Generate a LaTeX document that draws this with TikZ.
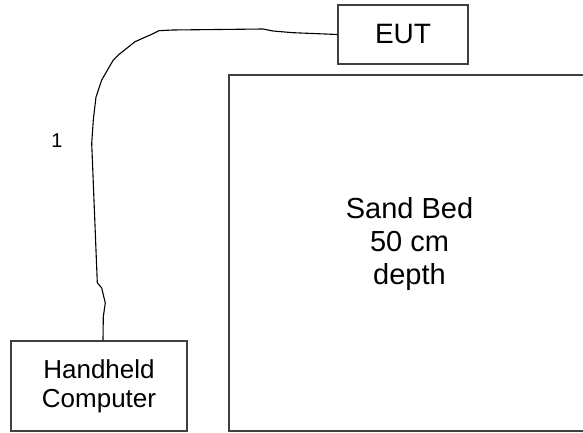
\documentclass[tikz,border=0pt]{standalone}
\usepackage{fontspec}
\setmainfont{Liberation Sans}
\usepackage{xcolor}
\usetikzlibrary{positioning}

\begin{document}
\begin{tikzpicture}[%
      x=1pt, y=-1pt,
      box/.style={draw=black!75, line width=1.4pt, align=center, inner sep=0pt},
      cable/.style={black, line width=1.1pt, line join=round}]
      \useasboundingbox (0,0) rectangle (583,433);
      \clip (0,0) rectangle (583,433);
      \node[box, minimum width=130pt, minimum height=59pt,
            font=\fontsize{28}{32}\selectfont] (eut) at (403,34.5) {EUT};
      \node[box, minimum width=361pt, minimum height=356pt] (sandbed) at (409.5,253) {};
      \node[align=center, font=\fontsize{29}{33}\selectfont]
            (sandtext) at ([yshift=9pt]sandbed.center) {Sand Bed\\50 cm\\depth};
      \node[box, minimum width=176pt, minimum height=90pt,
            font=\fontsize{26}{29}\selectfont] (handheld) at (99,386) {Handheld\\Computer};
      \node[font=\fontsize{20}{22}\selectfont] (cablenum) at (57,141) {1};
      % cable from the computer up and over to the EUT
      \draw[cable] ([xshift=4pt]handheld.north) -- (103.3,316.7) -- (105.3,303)
        -- (101.7,288) -- (97.3,282.7) -- (91.7,143.3) -- (93.3,120) -- (96,97)
        -- (101.7,80) -- (113.3,60) -- (118.3,55) -- (135,41.7) -- (151.7,34.3)
        -- (159,30.7) -- (173,30) -- (263,29) -- (273,31) -- (293,32.7) -- (eut.west);
\end{tikzpicture}
\end{document}
